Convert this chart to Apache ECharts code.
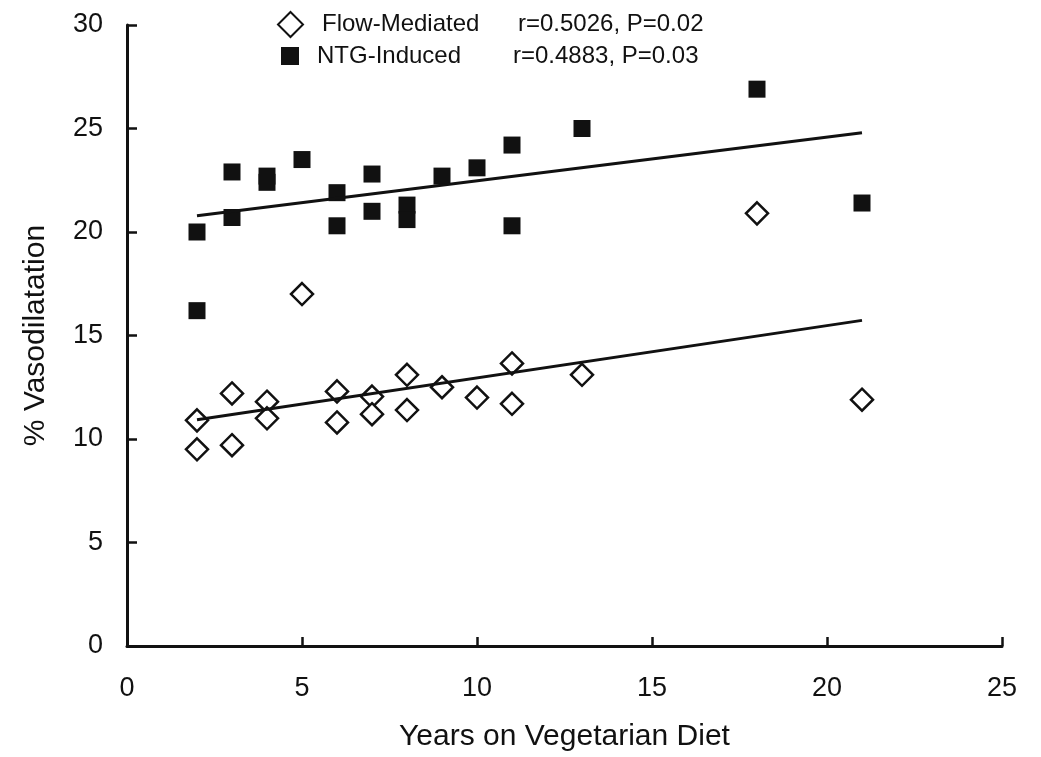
<!DOCTYPE html>
<html>
<head>
<meta charset="utf-8">
<script src="https://cdn.jsdelivr.net/npm/echarts@6/dist/echarts.min.js"></script>
<style>
  html, body { margin: 0; padding: 0; background: #fff; }
  #chart { width: 1041px; height: 757px; }
</style>
</head>
<body>
<div id="chart"></div>
<script>
// Years on a vegetarian diet and the matching % vasodilatation readings
const flowYears = [2, 2, 3, 3, 4, 4, 5, 6, 6, 7, 7, 8, 8, 9, 10, 11, 11, 13, 18, 21];
const flowValues = [10.9, 9.5, 12.2, 9.7, 11.8, 11.0, 17.0, 12.3, 10.8, 12.05, 11.2, 13.1, 11.4, 12.5, 12.0, 13.65, 11.7, 13.1, 20.9, 11.9];

const ntgYears = [2, 2, 3, 3, 4, 4, 5, 6, 6, 7, 7, 8, 8, 9, 10, 11, 11, 13, 18, 21];
const ntgValues = [20.0, 16.2, 22.9, 20.7, 22.7, 22.4, 23.5, 21.9, 20.3, 22.8, 21.0, 21.3, 20.6, 22.7, 23.1, 24.2, 20.3, 25.0, 26.9, 21.4];

// Fitted regression lines: end points [years, %]
const flowFit = [[2, 10.93], [21, 15.73]];
const ntgFit = [[2, 20.78], [21, 24.79]];

// Correlation statistics shown beside each legend entry
const flowStats = 'r=0.5026, P=0.02';
const ntgStats = 'r=0.4883, P=0.03';

const xTicks = [0, 5, 10, 15, 20, 25];
const yTicks = [0, 5, 10, 15, 20, 25, 30];

const FONT = "'Liberation Sans', Arial, Helvetica, sans-serif";
const INK = '#111';

const pairs = (xs, ys) => xs.map((x, i) => [x, ys[i]]);

const chart = echarts.init(document.getElementById('chart'), null, { renderer: 'canvas' });

// legend rows: spacer, series name column, statistics column
const legendRich = spacer => ({
  p: { width: spacer, fontSize: 24, fontFamily: FONT },
  n: { width: 196, fontSize: 24, fontFamily: FONT, color: INK },
  r: { fontSize: 24, fontFamily: FONT, color: INK }
});

chart.setOption({
  backgroundColor: '#fff',
  animation: false,
  grid: { left: 127, right: 39, top: 25, bottom: 107, containLabel: false },
  legend: [
    {
      data: ['Flow-Mediated'],
      left: 272, top: 6,
      itemWidth: 25, itemHeight: 25,
      formatter: name => `{p|\u00a0}{n|${name}}{r|${flowStats}}`,
      textStyle: { rich: legendRich(14), fontSize: 24, fontFamily: FONT, color: INK }
    },
    {
      data: ['NTG-Induced'],
      left: 276, top: 39,
      itemWidth: 18, itemHeight: 18,
      formatter: name => `{p|\u00a0}{n|${name}}{r|${ntgStats}}`,
      textStyle: { rich: legendRich(13), fontSize: 24, fontFamily: FONT, color: INK }
    }
  ],
  xAxis: {
    type: 'value',
    min: xTicks[0], max: xTicks[xTicks.length - 1], interval: 5,
    name: 'Years on Vegetarian Diet',
    nameLocation: 'middle',
    nameGap: 76,
    nameTextStyle: { fontSize: 30, fontFamily: FONT, color: INK },
    axisLine: { show: true, onZero: false, lineStyle: { color: INK, width: 3 } },
    axisTick: { show: true, inside: true, length: 9, lineStyle: { color: INK, width: 2.5 } },
    axisLabel: { margin: 29, fontSize: 27, fontFamily: FONT, color: INK },
    splitLine: { show: false }
  },
  yAxis: {
    type: 'value',
    min: yTicks[0], max: yTicks[yTicks.length - 1], interval: 5,
    name: '% Vasodilatation',
    nameLocation: 'middle',
    nameGap: 76,
    nameTextStyle: { fontSize: 30, fontFamily: FONT, color: INK },
    axisLine: { show: true, onZero: false, lineStyle: { color: INK, width: 3 } },
    axisTick: { show: true, inside: true, length: 10, lineStyle: { color: INK, width: 2.5 } },
    axisLabel: { margin: 24, fontSize: 27, fontFamily: FONT, color: INK },
    splitLine: { show: false }
  },
  series: [
    {
      name: 'Flow-Mediated',
      type: 'scatter',
      symbol: 'diamond',
      symbolSize: 22,
      itemStyle: { color: '#fff', borderColor: INK, borderWidth: 2.5, opacity: 1 },
      data: pairs(flowYears, flowValues),
      z: 3
    },
    {
      name: 'NTG-Induced',
      type: 'scatter',
      symbol: 'rect',
      symbolSize: 17,
      itemStyle: { color: INK, opacity: 1 },
      data: pairs(ntgYears, ntgValues),
      z: 3
    },
    {
      name: 'Flow-Mediated fit',
      type: 'line',
      data: flowFit,
      symbol: 'none',
      lineStyle: { color: INK, width: 3 },
      silent: true,
      z: 5
    },
    {
      name: 'NTG-Induced fit',
      type: 'line',
      data: ntgFit,
      symbol: 'none',
      lineStyle: { color: INK, width: 3 },
      silent: true,
      z: 5
    }
  ]
});
</script>
</body>
</html>
